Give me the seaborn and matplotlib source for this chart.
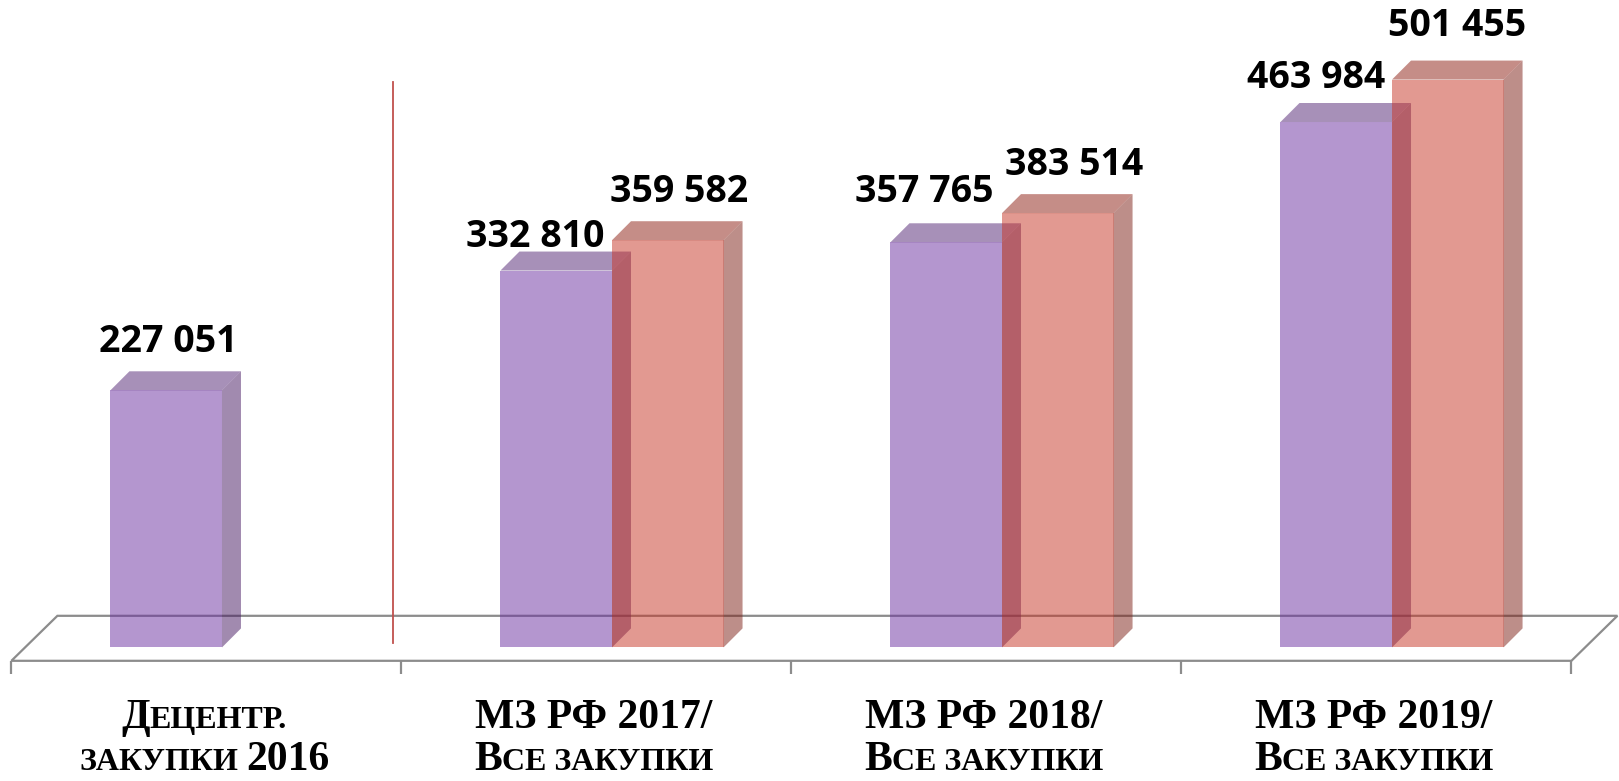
import numpy as np
import pandas as pd
import matplotlib
matplotlib.use("Agg")
import matplotlib.pyplot as plt
import seaborn as sns
from matplotlib.patches import Polygon
from matplotlib.transforms import IdentityTransform

# ---------------- data ----------------
categories = ["Децентр. закупки 2016", "МЗ РФ 2017/ Все закупки",
              "МЗ РФ 2018/ Все закупки", "МЗ РФ 2019/ Все закупки"]
series_names = ["МЗ РФ", "Все закупки"]
mz_values = [227051, 332810, 357765, 463984]
all_values = [np.nan, 359582, 383514, 501455]

# tick labels written as small caps: (text, is_big)
tick_label_lines = [
    [[("Д", True), ("ЕЦЕНТР.", False)], [("ЗАКУПКИ ", False), ("2016", True)]],
    [[("МЗ РФ 2017/", True)], [("В", True), ("СЕ ЗАКУПКИ", False)]],
    [[("МЗ РФ 2018/", True)], [("В", True), ("СЕ ЗАКУПКИ", False)]],
    [[("МЗ РФ 2019/", True)], [("В", True), ("СЕ ЗАКУПКИ", False)]],
]

# ---------------- style ----------------
ALPHA = 0.5
front_cols = ["#6b2fa1", "#c73525"]
top_cols = ["#512373", "#8d1d11"]
side_cols = ["#451761", "#7d1f15"]
DEPTH_PX = 19
label_offsets_px = [[(2, 48), (-21, 34), (-22, 50), (-20, 44)],
                    [None, (11, 48), (16, 48), (9, 54)]]

W, H, DPI = 1619, 781, 100
fig = plt.figure(figsize=(W / DPI, H / DPI), dpi=DPI)
ax = fig.add_axes([0, 0, 1, 1])
xlim = (-0.5692, 3.582)
ylim = (-117982, 571725)

df = pd.DataFrame({
    "cat": categories * 2,
    "series": [series_names[0]] * 4 + [series_names[1]] * 4,
    "value": mz_values + all_values,
})
df = df.dropna()

sns.barplot(data=df, x="cat", y="value", hue="series", order=categories,
            hue_order=series_names, palette=front_cols, saturation=1,
            width=0.572, alpha=ALPHA, linewidth=0, legend=False, ax=ax)
ax.set_xlim(*xlim)
ax.set_ylim(*ylim)
ax.axis("off")

ux = (xlim[1] - xlim[0]) / W   # data units per pixel
uy = (ylim[1] - ylim[0]) / H
ddx, ddy = DEPTH_PX * ux, DEPTH_PX * uy

# ---------------- floor ----------------
shift = -0.04
floor_front_y = -13.4 * uy
fdx, fdy = 46 * ux, 45 * uy
x_left, x_right = -1 + 0.5 + shift, len(categories) - 1 + 0.5 + shift
floor = Polygon([(x_left, floor_front_y), (x_right, floor_front_y),
                 (x_right + fdx, floor_front_y + fdy), (x_left + fdx, floor_front_y + fdy)],
                closed=True, facecolor="white", edgecolor="#8c8c8c", lw=1.6, zorder=1)
ax.add_patch(floor)
for k in range(-1, len(categories)):
    xb = k + 0.5 + shift
    ax.plot([xb, xb], [floor_front_y, floor_front_y - 13 * uy], color="#8c8c8c",
            lw=1.6, zorder=1, solid_capstyle="butt")

# separator line
ax.plot([0.4395, 0.4395], [4150, 499300], color="#c0504d", lw=1.3, zorder=1.5)

# ---------------- 3D faces + labels ----------------
for s, cont in enumerate(ax.containers):
    for bar in cont:
        bar.set_zorder(2 + s)
    vals = mz_values if s == 0 else all_values
    valid = [i for i, v in enumerate(vals) if not np.isnan(v)]
    for bar, i in zip(cont, valid):
        x0 = bar.get_x()
        w = bar.get_width()
        h = bar.get_height()
        x1 = x0 + w
        side = Polygon([(x1, 0), (x1 + ddx, ddy), (x1 + ddx, h + ddy), (x1, h)],
                       closed=True, facecolor=side_cols[s], alpha=ALPHA, lw=0,
                       zorder=2.1 + s)
        top = Polygon([(x0, h), (x1, h), (x1 + ddx, h + ddy), (x0 + ddx, h + ddy)],
                      closed=True, facecolor=top_cols[s], alpha=ALPHA, lw=0,
                      zorder=2.1 + s)
        ax.add_patch(side)
        ax.add_patch(top)
        off = label_offsets_px[s][i]
        txt = f"{vals[i]:,.0f}".replace(",", " ")
        ax.annotate(txt, xy=(x0 + w / 2, h), xytext=(off[0] * 0.72, off[1] * 0.72),
                    textcoords="offset points", ha="center", va="center",
                    fontsize=27, fontweight="bold", family="Open Sans", color="black",
                    zorder=10)

# ---------------- category labels (small caps, baseline aligned) ----------------
BIG, SMALL = 30, 23
FONT = dict(fontweight="bold", family="Liberation Serif", color="black")
renderer = fig.canvas.get_renderer()


def text_w(s, size):
    if not s:
        return 0.0
    t = fig.text(0, 0, s, fontsize=size, **FONT)
    wpx = t.get_window_extent(renderer).width
    t.remove()
    return wpx


def space_w(size):
    return text_w("И И", size) - text_w("ИИ", size)


baselines_px = [52.7, 11.5]
label_shift = -0.046
for k, lines in enumerate(tick_label_lines):
    cx = ax.transData.transform((k + label_shift, 0))[0]
    for li, line in enumerate(lines):
        pieces = []
        total = 0.0
        for seg, big in line:
            size = BIG if big else SMALL
            core = seg.strip()
            lead = (len(seg) - len(seg.lstrip())) * space_w(size)
            trail = (len(seg) - len(seg.rstrip())) * space_w(size)
            wcore = text_w(core, size)
            pieces.append((core, size, lead, wcore, trail))
            total += lead + wcore + trail
        x = cx - total / 2
        for core, size, lead, wcore, trail in pieces:
            x += lead
            fig.text(x, baselines_px[li], core, fontsize=size, ha="left",
                     va="baseline", transform=IdentityTransform(), **FONT)
            x += wcore + trail

fig.savefig("out.png", dpi=DPI, facecolor="white")
